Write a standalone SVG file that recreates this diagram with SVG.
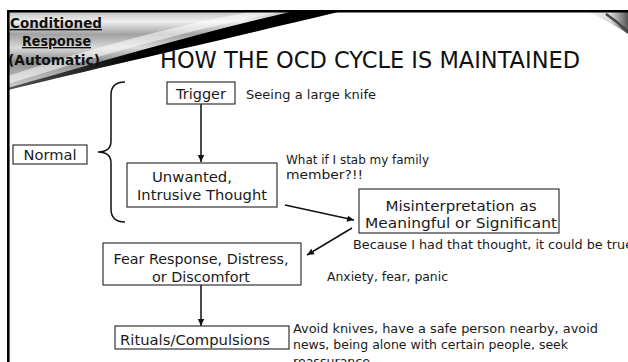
<svg xmlns="http://www.w3.org/2000/svg" width="628" height="362" viewBox="0 0 628 362">
<style>
.box{fill:#fff;stroke:#333;stroke-width:1.2}
.bt{font-family:"DejaVu Sans",sans-serif;font-size:14.7px;fill:#1a1a1a;text-anchor:middle}
.st{font-family:"DejaVu Sans",sans-serif;font-size:12.6px;fill:#1a1a1a}
.hd{font-family:"DejaVu Sans",sans-serif;font-size:13.5px;font-weight:bold;fill:#111;text-decoration:underline}
.ttl{font-family:"DejaVu Sans",sans-serif;font-size:23.5px;fill:#111}
.cn{fill:none;stroke:#111;stroke-width:1.5}
</style>
<defs>
<linearGradient id="sw" gradientUnits="userSpaceOnUse" x1="0" y1="12" x2="0" y2="92">
<stop offset="0" stop-color="#c4c4c4"/>
<stop offset="0.12" stop-color="#efefef"/>
<stop offset="0.28" stop-color="#a2a2a2"/>
<stop offset="0.45" stop-color="#dadada"/>
<stop offset="0.62" stop-color="#8c8c8c"/>
<stop offset="0.8" stop-color="#b4b4b4"/>
<stop offset="1" stop-color="#d2d2d2"/>
</linearGradient>
<linearGradient id="bk" gradientUnits="userSpaceOnUse" x1="8" y1="0" x2="338" y2="0">
<stop offset="0" stop-color="#555"/>
<stop offset="0.4" stop-color="#000"/>
<stop offset="1" stop-color="#000"/>
</linearGradient>
<linearGradient id="tr" gradientUnits="userSpaceOnUse" x1="585" y1="0" x2="628" y2="0">
<stop offset="0" stop-color="#fff"/>
<stop offset="0.6" stop-color="#d8d8d8"/>
<stop offset="1" stop-color="#555"/>
</linearGradient>
<marker id="ah" markerWidth="8" markerHeight="8" refX="7" refY="4" orient="auto" markerUnits="userSpaceOnUse">
<path d="M0,0.8 L7,4 L0,7.2 Z" fill="#111"/>
</marker>
</defs>
<rect width="628" height="362" fill="#fff"/>
<g id="frame">
<path d="M8,12 L338,12 C200,45 80,72 8,90 Z" fill="url(#sw)"/>
<path d="M8,84 C80,62 185,30 282,12 L250,12 C170,26 80,52 8,76 Z" fill="#fff" opacity="0.55"/>
<path d="M8,90 C80,72 200,45 338,12 L290,12 C190,35 80,68 8,88 Z" fill="url(#bk)"/>
<path d="M585,12 L628,12 L628,34 C615,25 600,17 585,12 Z" fill="url(#tr)"/>
<path d="M606,14 C615,20 622,26 628,32" fill="none" stroke="#444" stroke-width="2.5"/>
<rect x="7" y="10" width="621" height="2.5" fill="#000"/>
<rect x="7" y="10" width="2.6" height="352" fill="#000"/>
</g>
<g id="header">
<text class="hd" x="10" y="28" textLength="92" lengthAdjust="spacingAndGlyphs">Conditioned</text>
<text class="hd" x="22" y="46" textLength="69" lengthAdjust="spacingAndGlyphs">Response</text>
<text class="hd" x="8" y="65" textLength="92" lengthAdjust="spacingAndGlyphs" style="text-decoration:none">(Automatic)</text>
</g>
<g id="title">
<text class="ttl" x="160" y="68" textLength="420" lengthAdjust="spacingAndGlyphs">HOW THE OCD CYCLE IS MAINTAINED</text>
</g>
<g id="connectors">
<line class="cn" x1="201" y1="104" x2="201" y2="162" marker-end="url(#ah)"/>
<line class="cn" x1="285" y1="205" x2="354" y2="220" marker-end="url(#ah)"/>
<line class="cn" x1="352" y1="228" x2="307" y2="255" marker-end="url(#ah)"/>
<line class="cn" x1="201" y1="285" x2="201" y2="326" marker-end="url(#ah)"/>
<path class="cn" d="M125,82 Q111,82 111,95 L111,141 Q111,152 98,152 Q111,152 111,163 L111,209 Q111,222 125,222"/>
</g>
<g id="normal">
<rect class="box" x="13" y="145" width="74" height="19"/>
<text class="bt" x="50" y="160" textLength="53" lengthAdjust="spacingAndGlyphs">Normal</text>
</g>
<g id="trigger">
<rect class="box" x="167" y="82" width="68" height="22"/>
<text class="bt" x="201" y="98.5" textLength="50" lengthAdjust="spacingAndGlyphs">Trigger</text>
<text class="st" x="246" y="98.5" textLength="130" lengthAdjust="spacingAndGlyphs">Seeing a large knife</text>
</g>
<g id="unwanted">
<rect class="box" x="127" y="163" width="150" height="44"/>
<text class="bt" x="192" y="182" textLength="80" lengthAdjust="spacingAndGlyphs">Unwanted,</text>
<text class="bt" x="202" y="200" textLength="130" lengthAdjust="spacingAndGlyphs">Intrusive Thought</text>
<text class="st" x="286" y="164" textLength="143" lengthAdjust="spacingAndGlyphs">What if I stab my family</text>
<text class="st" x="286" y="179" textLength="77" lengthAdjust="spacingAndGlyphs">member?!!</text>
</g>
<g id="misinterpretation">
<rect class="box" x="359" y="189" width="200" height="44"/>
<text class="bt" x="461" y="211" textLength="151" lengthAdjust="spacingAndGlyphs">Misinterpretation as</text>
<text class="bt" x="461" y="228" textLength="192" lengthAdjust="spacingAndGlyphs">Meaningful or Significant</text>
<text class="st" x="353" y="249" textLength="280" lengthAdjust="spacingAndGlyphs">Because I had that thought, it could be true</text>
</g>
<g id="fear">
<rect class="box" x="103" y="243" width="198" height="42"/>
<text class="bt" x="201" y="264" textLength="175" lengthAdjust="spacingAndGlyphs">Fear Response, Distress,</text>
<text class="bt" x="201" y="282" textLength="98" lengthAdjust="spacingAndGlyphs">or Discomfort</text>
<text class="st" x="327" y="281" textLength="121" lengthAdjust="spacingAndGlyphs">Anxiety, fear, panic</text>
</g>
<g id="rituals">
<rect class="box" x="115" y="326" width="174" height="23"/>
<text class="bt" x="195" y="345" textLength="150" lengthAdjust="spacingAndGlyphs">Rituals/Compulsions</text>
<text class="st" x="293" y="333" textLength="305" lengthAdjust="spacingAndGlyphs">Avoid knives, have a safe person nearby,  avoid</text>
<text class="st" x="293" y="349" textLength="275" lengthAdjust="spacingAndGlyphs">news, being alone with certain people, seek</text>
<text class="st" x="293" y="366">reassurance</text>
</g>
</svg>
